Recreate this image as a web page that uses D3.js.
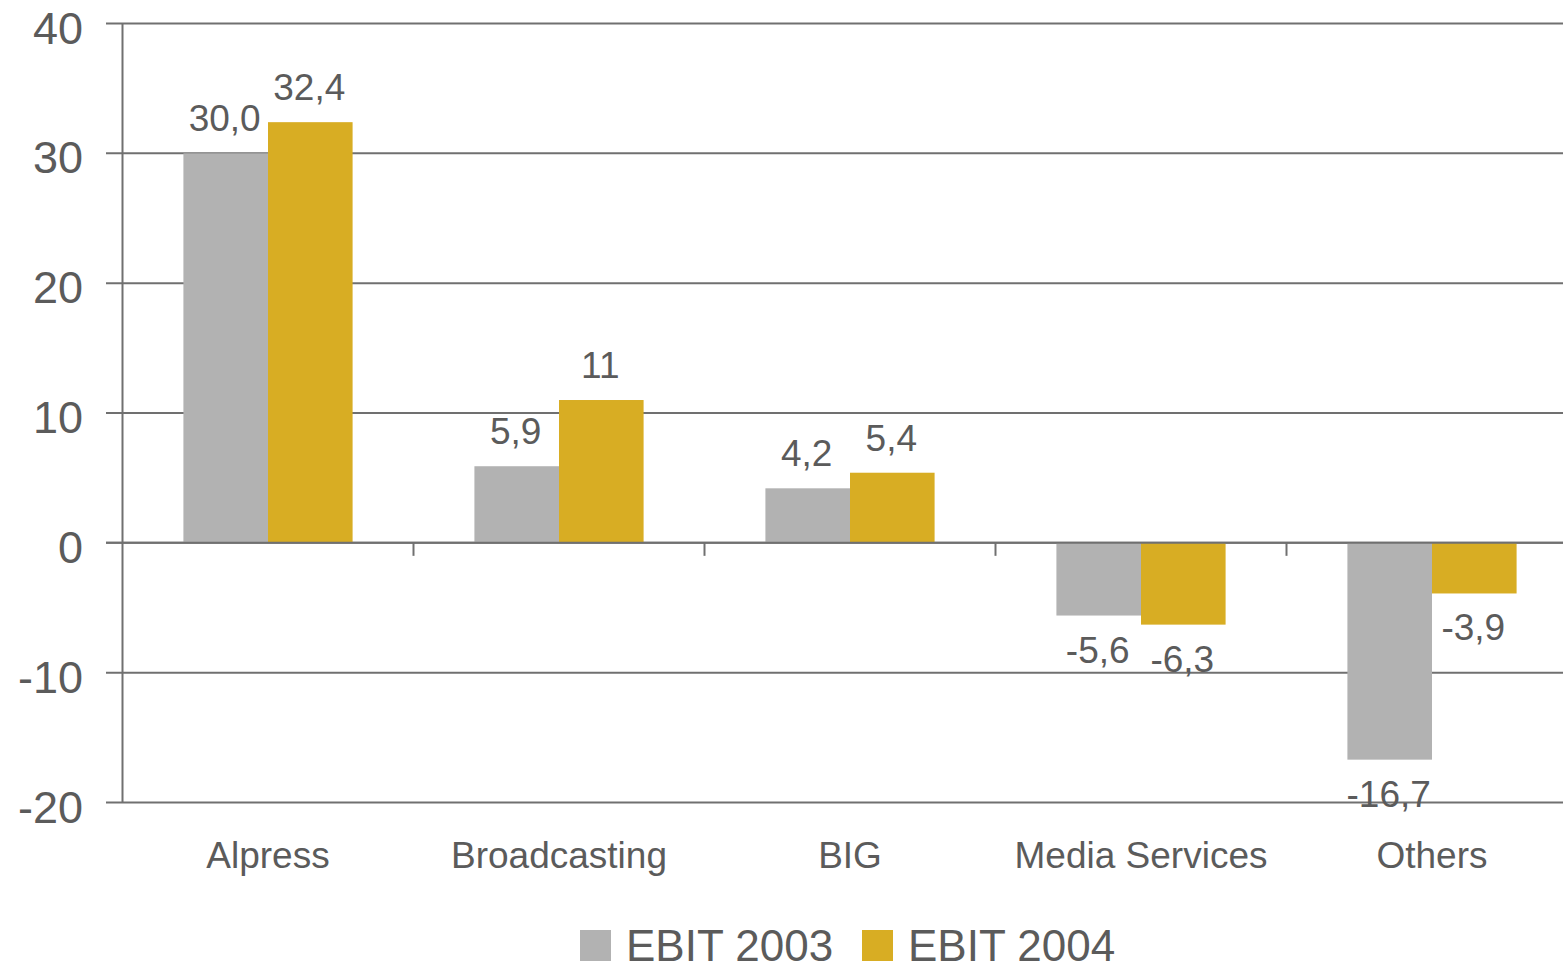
<!DOCTYPE html>
<html>
<head>
<meta charset="utf-8">
<script src="https://cdn.jsdelivr.net/npm/d3@7"></script>
<style>
  html, body { margin: 0; padding: 0; background: #fff; }
  svg { display: block; font-family: "Liberation Sans", Arial, Helvetica, sans-serif; }
</style>
</head>
<body>
<svg id="chart" width="1563" height="971"></svg>
<script>
const categories = ["Alpress", "Broadcasting", "BIG", "Media Services", "Others"];
const seriesNames = ["EBIT 2003", "EBIT 2004"];
const ebit2003 = [30.0, 5.9, 4.2, -5.6, -16.7];
const ebit2004 = [32.4, 11, 5.4, -6.3, -3.9];
const labels2003 = ["30,0", "5,9", "4,2", "-5,6", "-16,7"];
const labels2004 = ["32,4", "11", "5,4", "-6,3", "-3,9"];
const yTicks = [-20, -10, 0, 10, 20, 30, 40];
const colors = ["#b2b2b2", "#d8ad23"];

const series = [
  { name: seriesNames[0], values: ebit2003, labels: labels2003, color: colors[0] },
  { name: seriesNames[1], values: ebit2004, labels: labels2004, color: colors[1] }
];

const svg = d3.select("#chart");
const axisColor = "#707070";
const textColor = "#5b5b5b";

const x0 = d3.scaleBand().domain(categories).range([122.5, 1577.5]).paddingInner(0).paddingOuter(0);
const x1 = d3.scaleBand().domain(seriesNames).range([0, x0.bandwidth()]).paddingInner(0).paddingOuter(0.72);
const y = d3.scaleLinear().domain([-20, 40]).range([802.5, 23.5]);

// gridlines
svg.append("g").selectAll("line").data(yTicks).join("line")
  .attr("x1", 106).attr("x2", 1563)
  .attr("y1", d => y(d)).attr("y2", d => y(d))
  .attr("stroke", axisColor).attr("stroke-width", 2);

// y tick labels
svg.append("g").selectAll("text").data(yTicks).join("text")
  .attr("x", 83).attr("y", d => y(d) + 20)
  .attr("text-anchor", "end")
  .attr("font-size", 45)
  .attr("fill", textColor)
  .text(d => d);

// bars
const groups = svg.append("g").selectAll("g").data(series).join("g");
groups.selectAll("rect").data(s => s.values.map((v, i) => ({ v, i, s }))).join("rect")
  .attr("x", d => x0(categories[d.i]) + x1(d.s.name))
  .attr("width", x1.bandwidth())
  .attr("y", d => y(Math.max(0, d.v)))
  .attr("height", d => Math.abs(y(d.v) - y(0)))
  .attr("fill", d => d.s.color);

// zero axis line and category ticks
svg.append("line")
  .attr("x1", 106).attr("x2", 1563)
  .attr("y1", y(0)).attr("y2", y(0))
  .attr("stroke", axisColor).attr("stroke-width", 2);
svg.append("g").selectAll("line").data(categories.slice(1)).join("line")
  .attr("x1", d => x0(d)).attr("x2", d => x0(d))
  .attr("y1", y(0)).attr("y2", y(0) + 13)
  .attr("stroke", axisColor).attr("stroke-width", 2);

// y axis line
svg.append("line")
  .attr("x1", 122.5).attr("x2", 122.5)
  .attr("y1", y(40)).attr("y2", y(-20))
  .attr("stroke", axisColor).attr("stroke-width", 2);

// value labels
groups.selectAll("text").data(s => s.values.map((v, i) => ({ v, i, s }))).join("text")
  .attr("x", d => x0(categories[d.i]) + x1(d.s.name) + x1.bandwidth() / 2 - 1)
  .attr("y", d => d.v >= 0 ? y(d.v) - 22 : y(d.v) + 47)
  .attr("text-anchor", "middle")
  .attr("font-size", 37)
  .attr("fill", textColor)
  .text(d => d.s.labels[d.i]);

// category labels
svg.append("g").selectAll("text").data(categories).join("text")
  .attr("x", d => x0(d) + x0.bandwidth() / 2)
  .attr("y", 868)
  .attr("text-anchor", "middle")
  .attr("font-size", 37)
  .attr("fill", textColor)
  .text(d => d);

// legend
const legendX = [580, 862];
const legend = svg.append("g").selectAll("g").data(series).join("g")
  .attr("transform", (d, i) => `translate(${legendX[i]},0)`);
legend.append("rect")
  .attr("x", 0).attr("y", 930).attr("width", 31).attr("height", 31)
  .attr("fill", d => d.color);
legend.append("text")
  .attr("x", 46).attr("y", 961)
  .attr("font-size", 44)
  .attr("fill", textColor)
  .text(d => d.name);
</script>
</body>
</html>
